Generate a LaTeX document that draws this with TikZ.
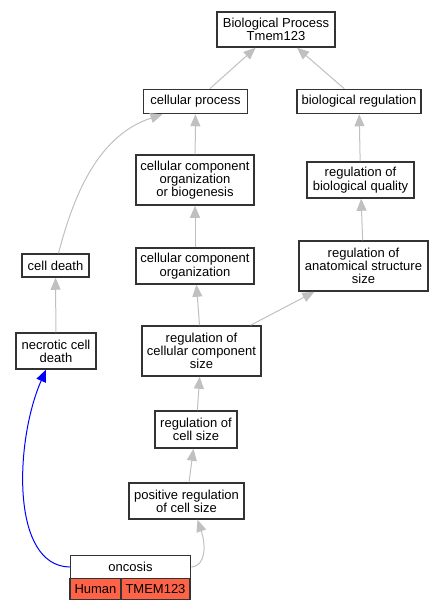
\documentclass[tikz,border=0pt]{standalone}
\usepackage{fontspec}
\setmainfont{Liberation Sans}
\usetikzlibrary{arrows.meta,shapes}
\definecolor{edgegray}{HTML}{C0C0C0}
\definecolor{boxline}{HTML}{333333}
\definecolor{tomatored}{HTML}{FF6347}
\tikzset{
  term/.style={draw=boxline, line width=1.5pt, fill=white, inner sep=0pt, align=center,
    font=\fontsize{13}{13.3}\selectfont},
  isa/.style={draw=edgegray, line width=1pt, -{Triangle[length=12pt,width=10pt]}},
  annot/.style={draw=blue, line width=1pt, -{Triangle[length=12pt,width=10pt]}}
}
\begin{document}
\begin{tikzpicture}[x=1pt, y=-1pt]
	\useasboundingbox (0,0) rectangle (444,611);
	% terms
	\node[term, minimum width=118pt, minimum height=35pt] (bioproc) at (276, 29.5) {Biological Process\\Tmem123};
	\node[term, minimum width=104pt, minimum height=24pt] (cellproc) at (195.5, 101.5) {cellular process};
	\node[term, minimum width=124pt, minimum height=24pt] (bioreg) at (359, 101.5) {biological regulation};
	\node[term, minimum width=118pt, minimum height=50pt] (ccorgbio) at (195, 180) {cellular component\\organization\\or biogenesis};
	\node[term, minimum width=107pt, minimum height=36pt] (regbioq) at (360.5, 180) {regulation of\\biological quality};
	\node[term, minimum width=67pt, minimum height=23pt] (celldeath) at (55.5, 265.5) {cell death};
	\node[term, minimum width=118pt, minimum height=36pt] (ccorg) at (195, 266) {cellular component\\organization};
	\node[term, minimum width=129pt, minimum height=50pt] (reganat) at (363.5, 266) {regulation of\\anatomical structure\\size};
	\node[term, minimum width=80pt, minimum height=36pt] (necrotic) at (56, 351) {necrotic cell\\death};
	\node[term, minimum width=119pt, minimum height=50pt] (regccsize) at (201.5, 351) {regulation of\\cellular component\\size};
	\node[term, minimum width=82pt, minimum height=37pt] (regcsize) at (196, 429.5) {regulation of\\cell size};
	\node[term, minimum width=115pt, minimum height=36pt] (posregcsize) at (186.5, 501) {positive regulation\\of cell size};
	% annotated term
	\node[term, minimum width=120pt, minimum height=23pt] (oncosis) at (130.5, 567) {oncosis};
	\node[term, fill=tomatored, minimum width=51pt, minimum height=21pt] (onchuman) at (95.5, 589) {Human};
	\node[term, fill=tomatored, minimum width=69pt, minimum height=21pt] (onctmem) at (155.5, 589) {TMEM123};

	% is_a edges
	\draw[isa] (cellproc) -- (bioproc);
	\draw[isa] (bioreg) -- (bioproc);
	\draw[isa] (ccorgbio) -- (cellproc);
	\draw[isa] (regbioq) -- (bioreg);
	\draw[isa] (ccorg) -- (ccorgbio);
	\draw[isa] (reganat) -- (regbioq);
	\draw[isa] (necrotic) -- (celldeath);
	\draw[isa] (regccsize) -- (ccorg);
	\draw[isa] (regccsize) -- (reganat);
	\draw[isa] (regcsize) -- (regccsize);
	\draw[isa] (posregcsize) -- (regcsize);
	\draw[isa] ([xshift=3pt]celldeath.north) .. controls (75,190) and (100,135) .. ([xshift=-33pt]cellproc.south);
	\draw[isa] (oncosis.east) .. controls (206,566) and (206,545) .. ([xshift=11pt]posregcsize.south);

	% annotation
	\draw[annot] (oncosis.west) .. controls (10,566) and (15,440) .. ([xshift=-10pt]necrotic.south);
\end{tikzpicture}
\end{document}
